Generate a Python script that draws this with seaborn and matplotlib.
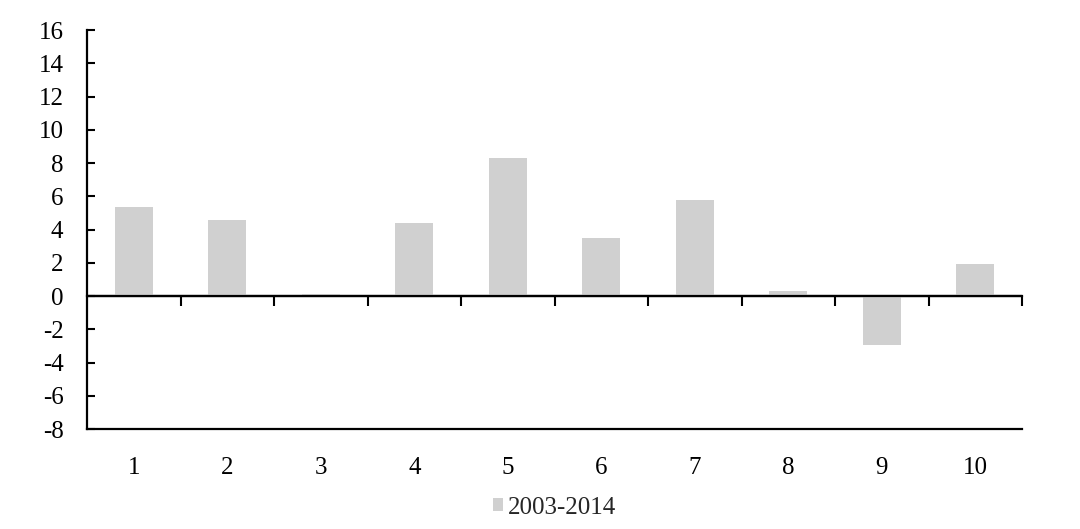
import numpy as np
import pandas as pd
import matplotlib
matplotlib.use("Agg")
import matplotlib.pyplot as plt
import seaborn as sns

# Werte
categories = ["1", "2", "3", "4", "5", "6", "7", "8", "9", "10"]
values = [5.37, 4.6, 0.13, 4.37, 8.28, 3.5, 5.81, 0.31, -2.92, 1.92]
series_name = "2003-2014"
y_ticks = [16, 14, 12, 10, 8, 6, 4, 2, 0, -2, -4, -6, -8]

df = pd.DataFrame({"Kategorie": categories, "Wert": values, "Periode": series_name})

sns.set_style("white")
plt.rcParams["font.family"] = ["Liberation Serif", "DejaVu Serif"]
plt.rcParams["axes.unicode_minus"] = False

fig = plt.figure(figsize=(10.8, 5.29), dpi=100)
ax = fig.add_axes([0.0806, 0.189, 0.8657, 0.754])

sns.barplot(data=df, x="Kategorie", y="Wert", hue="Periode", palette=["#d0d0d0"],
            width=0.41, linewidth=0, ax=ax, legend=True)

ax.set_xlim(-0.5, 9.5)
ax.set_ylim(-8, 16)
ax.set_yticks(y_ticks)
ax.set_xlabel("")
ax.set_ylabel("")

for s in ["top", "right"]:
    ax.spines[s].set_visible(False)
for s in ["left", "bottom"]:
    ax.spines[s].set_color("black")
    ax.spines[s].set_linewidth(1.6)

ax.tick_params(axis="y", direction="in", length=6, width=1.5, pad=17,
               labelsize=18, colors="black", left=True)
ax.tick_params(axis="x", length=0, pad=20, labelsize=18, colors="black")

# Nulllinie mit Trennstrichen zwischen den Kategorien
ax.axhline(0, color="black", lw=1.6, zorder=5)
zero_ax = ax.secondary_xaxis(8 / 24)
zero_ax.set_xticks(np.arange(0.5, 10, 1.0))
zero_ax.tick_params(direction="out", length=7, width=1.5, labelbottom=False, colors="black")
zero_ax.spines["bottom"].set_linewidth(1.6)
zero_ax.spines["bottom"].set_color("black")

leg = ax.legend(loc="upper center", bbox_to_anchor=(0.5, -0.145), frameon=False,
                fontsize=18, handlelength=0.42, handleheight=0.42, handletextpad=0.2,
                borderaxespad=0)

fig.savefig("out.png", dpi=100)
